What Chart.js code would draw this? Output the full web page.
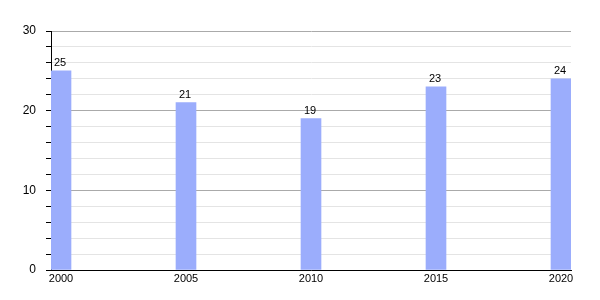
<!DOCTYPE html>
<html>
<head>
<meta charset="utf-8">
<script src="https://cdn.jsdelivr.net/npm/chart.js@4"></script>
<style>
  body { margin: 0; background: #fff; }
</style>
</head>
<body>
<canvas id="myChart" width="600" height="300"></canvas>
<script>
// du lieu
var years = [2000, 2005, 2010, 2015, 2020];
var values = [25, 21, 19, 23, 24];
var yTicks = [0, 10, 20, 30];

// ve so tren cot
var valueLabels = {
    id: 'valueLabels',
    afterDatasetsDraw: function(chart) {
        var c = chart.ctx;
        var meta = chart.getDatasetMeta(0);
        c.save();
        c.font = '11px "Liberation Sans", Arial, sans-serif';
        c.fillStyle = '#000';
        c.textAlign = 'center';
        c.textBaseline = 'bottom';
        meta.data.forEach(function(bar, i) {
            c.fillText(values[i], bar.x - 1, bar.y - 2);
        });
        c.restore();
    }
};

var ctx = document.getElementById("myChart");
var myChart = new Chart(ctx, {
    type: 'bar',
    data: {
        datasets: [{
            data: years.map(function(y, i) { return { x: y, y: values[i] }; }),
            backgroundColor: '#9badfc',
            barThickness: 20,
            borderWidth: 0
        }]
    },
    options: {
        responsive: false,
        animation: false,
        layout: { padding: { left: 0, right: 29, top: 31, bottom: 0 } },
        plugins: {
            legend: { display: false },
            tooltip: { enabled: false }
        },
        scales: {
            x: {
                type: 'linear',
                min: 1999.6,
                max: 2020.4,
                offset: false,
                afterBuildTicks: function(scale) {
                    scale.ticks = years.map(function(y) { return { value: y }; });
                },
                afterFit: function(scale) { scale.height = 30; },
                grid: { display: false, drawTicks: false },
                border: { color: '#000', width: 1 },
                ticks: {
                    color: '#000',
                    padding: 2,
                    maxRotation: 0,
                    autoSkip: false,
                    font: { family: '"Liberation Sans", Arial, sans-serif', size: 11 },
                    callback: function(v) { return String(v); }
                }
            },
            y: {
                min: 0,
                max: 30,
                afterFit: function(scale) { scale.width = 51; },
                ticks: {
                    stepSize: 2,
                    autoSkip: false,
                    color: '#000',
                    padding: 10,
                    font: { family: '"Liberation Sans", Arial, sans-serif', size: 12 },
                    callback: function(v) { return yTicks.indexOf(v) >= 0 ? v : ''; }
                },
                grid: {
                    tickLength: 5,
                    tickColor: '#000',
                    color: function(c) {
                        return (c.tick && c.tick.value % 10 === 0) ? '#aaaaaa' : '#e4e4e4';
                    }
                },
                border: { color: '#000', width: 1 }
            }
        }
    },
    plugins: [valueLabels]
});
</script>
</body>
</html>
